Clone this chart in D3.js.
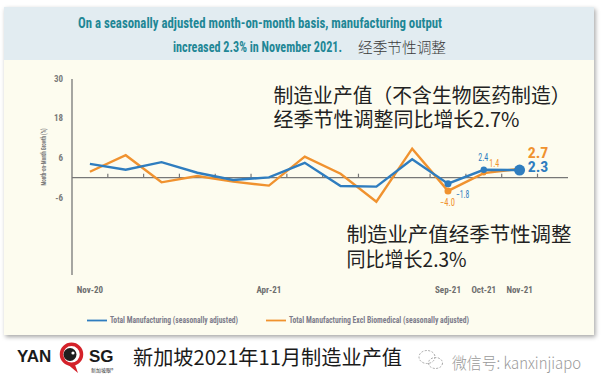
<!DOCTYPE html>
<html>
<head>
<meta charset="utf-8">
<script src="https://cdn.jsdelivr.net/npm/d3@7"></script>
<style>
    body { margin: 0; background: #fff; }
    svg { display: block; }
</style>
</head>
<body>
<div class="mfg-chart"></div>
<script>
// Data
const months = ['Nov-20', 'Dec-20', 'Jan-21', 'Feb-21', 'Mar-21', 'Apr-21', 'May-21',
    'Jun-21', 'Jul-21', 'Aug-21', 'Sep-21', 'Oct-21', 'Nov-21']
const totalMfg = [4.2, 2.4, 4.7, 1.5, -0.7, 0.1, 4.5, -2.5, -2.7, 5.6, -1.8, 2.4, 2.3]
const exclBiomed = [1.8, 6.8, -1.4, 0.5, -1.2, -2.4, 6.4, 1.2, -7.3, 8.8, -4.0, 1.4, 2.7]
const xLabels = ['Nov-20', 'Apr-21', 'Sep-21', 'Oct-21', 'Nov-21']
const yTicks = [30, 18, 6, -6]
const legendText = ['Total Manufacturing (seasonally adjusted)',
    'Total Manufacturing Excl Biomedical (seasonally adjusted)']

/* Configuration */
const width = 601
const height = 388
const selector = '.mfg-chart'
const blue = '#2f7dbf'
const orange = '#f0922f'
const teal = '#1f8796'
const grey = '#7a7a7a'
const condensed = '"Roboto Condensed", "Liberation Sans Narrow", "DejaVu Sans Condensed", Roboto, sans-serif'
const cjk = '"Noto Sans CJK SC", "Noto Sans", sans-serif'

const svg = d3
    .select(selector)
    .append('svg')
    .attr('width', width)
    .attr('height', height)
    .attr('viewBox', [0, 0, width, height])

const defs = svg.append('defs')
const shadow = defs.append('filter')
    .attr('id', 'shadow')
    .attr('x', -0.05).attr('y', -0.05)
    .attr('width', 1.1).attr('height', 1.12)
shadow.append('feDropShadow')
    .attr('dx', 1.5).attr('dy', 2)
    .attr('stdDeviation', 2)
    .attr('flood-color', '#000')
    .attr('flood-opacity', 0.35)

/* Card */
svg.append('rect')
    .attr('x', 4).attr('y', 7)
    .attr('width', 590).attr('height', 328)
    .attr('fill', '#fdfcef')
    .attr('filter', 'url(#shadow)')
svg.append('rect')
    .attr('x', 4).attr('y', 7)
    .attr('width', 590).attr('height', 53)
    .attr('fill', '#e2ecf1')

// Header
svg.append('text')
    .attr('x', 78).attr('y', 27.5)
    .attr('textLength', 364).attr('lengthAdjust', 'spacingAndGlyphs')
    .attr('fill', teal)
    .attr('font-family', condensed)
    .attr('font-weight', 700)
    .attr('font-size', 15.5)
    .text('On a seasonally adjusted month-on-month basis, manufacturing output')
svg.append('text')
    .attr('x', 173).attr('y', 51.5)
    .attr('textLength', 169).attr('lengthAdjust', 'spacingAndGlyphs')
    .attr('fill', teal)
    .attr('font-family', condensed)
    .attr('font-weight', 700)
    .attr('font-size', 15.5)
    .text('increased 2.3% in November 2021.')
svg.append('text')
    .attr('x', 358).attr('y', 46)
    .attr('dominant-baseline', 'central')
    .attr('textLength', 88).attr('lengthAdjust', 'spacingAndGlyphs')
    .attr('fill', '#3a3a3a')
    .attr('font-family', cjk)
    .attr('font-weight', 300)
    .attr('font-size', 14.5)
    .text('经季节性调整')

/* Scales */
const x = d3.scaleBand().domain(months).range([72, 537.5])
const y = d3.scaleLinear().domain([-30, 30]).range([276.7, 78.7])
const cx = d => x(d) + x.bandwidth() / 2

// Y axis
svg.append('line')
    .attr('x1', 72).attr('x2', 72)
    .attr('y1', 79).attr('y2', 275)
    .attr('stroke', '#777').attr('stroke-width', 1.3)

svg.append('g')
    .selectAll('text')
    .data(yTicks)
    .join('text')
    .attr('x', 63)
    .attr('y', d => y(d))
    .attr('dy', '0.35em')
    .attr('text-anchor', 'end')
    .attr('fill', grey)
    .attr('font-family', condensed)
    .attr('font-weight', 700)
    .attr('font-size', 9)
    .text(d => d)

svg.append('text')
    .attr('transform', 'translate(43.5, 157) rotate(-90)')
    .attr('text-anchor', 'middle')
    .attr('dominant-baseline', 'central')
    .attr('textLength', 57).attr('lengthAdjust', 'spacingAndGlyphs')
    .attr('fill', grey)
    .attr('font-family', condensed)
    .attr('font-weight', 700)
    .attr('font-size', 7)
    .text('Month-on-Month Growth (%)')

// Zero line with upward ticks on band edges
svg.append('line')
    .attr('x1', 72).attr('x2', 568)
    .attr('y1', y(0)).attr('y2', y(0))
    .attr('stroke', '#777').attr('stroke-width', 1.3)

svg.append('g')
    .selectAll('line')
    .data(months.slice(1).concat(['end']))
    .join('line')
    .attr('x1', (d, i) => x(months[0]) + (i + 1) * x.step())
    .attr('x2', (d, i) => x(months[0]) + (i + 1) * x.step())
    .attr('y1', y(0))
    .attr('y2', y(0) - 4)
    .attr('stroke', '#777').attr('stroke-width', 1.2)

svg.append('g')
    .selectAll('text')
    .data(xLabels)
    .join('text')
    .attr('x', d => cx(d))
    .attr('y', 293)
    .attr('text-anchor', 'middle')
    .attr('fill', '#6e6e6e')
    .attr('font-family', condensed)
    .attr('font-weight', 700)
    .attr('font-size', 9)
    .text(d => d)

/* Lines */
const line = d3.line()
    .x(d => cx(d[0]))
    .y(d => y(d[1]))

svg.append('path')
    .datum(d3.zip(months, exclBiomed))
    .attr('fill', 'none')
    .attr('stroke', orange)
    .attr('stroke-width', 2.4)
    .attr('stroke-linejoin', 'miter')
    .attr('d', line)

svg.append('path')
    .datum(d3.zip(months, totalMfg))
    .attr('fill', 'none')
    .attr('stroke', blue)
    .attr('stroke-width', 2.4)
    .attr('d', line)

// Markers on last months
const dots = [
    [months[10], exclBiomed[10], orange, 3.5],
    [months[11], exclBiomed[11], orange, 2.5],
    [months[10], totalMfg[10], blue, 3.5],
    [months[11], totalMfg[11], blue, 3.2],
    [months[12], totalMfg[12], blue, 5.5],
]
svg.append('g')
    .selectAll('circle')
    .data(dots)
    .join('circle')
    .attr('cx', d => cx(d[0]))
    .attr('cy', d => y(d[1]))
    .attr('r', d => d[3])
    .attr('fill', d => d[2])

// Value labels
const valueLabels = [
    [totalMfg[11], blue, 478.3, 160.7, 10, 10, 400],
    [exclBiomed[11], orange, 489.3, 167.3, 10, 10, 400],
    [exclBiomed[10], orange, 440, 206, 15, 10, 400],
    [totalMfg[10], blue, 456, 198, 13.3, 10, 400],
    [exclBiomed[12], orange, 527.7, 158, 20.6, 15, 700],
    [totalMfg[12], blue, 527.7, 172, 20.6, 15, 700],
]
svg.append('g')
    .selectAll('text')
    .data(valueLabels)
    .join('text')
    .attr('x', d => d[2])
    .attr('y', d => d[3])
    .attr('textLength', d => d[4])
    .attr('lengthAdjust', 'spacingAndGlyphs')
    .attr('fill', d => d[1])
    .attr('font-family', condensed)
    .attr('font-size', d => d[5])
    .attr('font-weight', d => d[6])
    .text(d => d3.format('.1f')(d[0]))

/* Chinese annotations */
const notes = [
    ['制造业产值（不含生物医药制造）', 273.5, 94, 297],
    ['经季节性调整同比增长2.7%', 273.5, 118.5, 246],
    ['制造业产值经季节性调整', 346.5, 233, 225],
    ['同比增长2.3%', 346.5, 258, 120],
]
svg.append('g')
    .selectAll('text')
    .data(notes)
    .join('text')
    .attr('x', d => d[1])
    .attr('y', d => d[2])
    .attr('dominant-baseline', 'central')
    .attr('textLength', d => d[3])
    .attr('lengthAdjust', 'spacingAndGlyphs')
    .attr('fill', '#222')
    .attr('font-family', cjk)
    .attr('font-size', 20)
    .text(d => d[0])

/* Legend */
const legend = svg.append('g')
    .selectAll('g')
    .data(d3.zip(legendText, [blue, orange], [87, 266], [128, 180]))
    .join('g')
legend.append('line')
    .attr('x1', d => d[2]).attr('x2', d => d[2] + 20)
    .attr('y1', 320.5).attr('y2', 320.5)
    .attr('stroke', d => d[1]).attr('stroke-width', 1.8)
legend.append('text')
    .attr('x', d => d[2] + 23)
    .attr('y', 320.5)
    .attr('dy', '0.35em')
    .attr('textLength', d => d[3])
    .attr('lengthAdjust', 'spacingAndGlyphs')
    .attr('fill', '#7d7d8c')
    .attr('font-family', condensed)
    .attr('font-weight', 700)
    .attr('font-size', 8.5)
    .text(d => d[0])

/* Footer: logo, caption, wechat id */
const logo = svg.append('g')
logo.append('text')
    .attr('x', 17).attr('y', 362)
    .attr('font-family', '"Liberation Sans", Arial, sans-serif')
    .attr('font-weight', 700).attr('font-size', 17)
    .attr('fill', '#1a1a1a')
    .text('YAN')
logo.append('path')
    .attr('d', 'M66,363 L78,373 L74,362 Z')
    .attr('fill', '#d4222a')
logo.append('circle')
    .attr('cx', 71.5).attr('cy', 354.3).attr('r', 10)
    .attr('fill', '#fff')
    .attr('stroke', '#d4222a').attr('stroke-width', 3.5)
logo.append('circle')
    .attr('cx', 70).attr('cy', 354.5).attr('r', 6.5)
    .attr('fill', '#1e1e1e')
logo.append('circle')
    .attr('cx', 73).attr('cy', 353).attr('r', 1.6)
    .attr('fill', '#fff')
logo.append('text')
    .attr('x', 89).attr('y', 362)
    .attr('font-family', '"Liberation Sans", Arial, sans-serif')
    .attr('font-weight', 700).attr('font-size', 17)
    .attr('fill', '#1a1a1a')
    .text('SG')
logo.append('text')
    .attr('x', 91).attr('y', 371.5)
    .attr('font-family', cjk)
    .attr('font-size', 5)
    .attr('fill', '#333')
    .text('新加坡眼®')

svg.append('text')
    .attr('x', 133).attr('y', 356.7)
    .attr('dominant-baseline', 'central')
    .attr('textLength', 269).attr('lengthAdjust', 'spacingAndGlyphs')
    .attr('font-family', cjk)
    .attr('font-size', 20)
    .attr('fill', '#1a1a1a')
    .text('新加坡2021年11月制造业产值')

// wechat bubbles
const wx = svg.append('g')
    .attr('fill', 'none')
    .attr('stroke', '#a8a8a8')
    .attr('stroke-width', 1)
    .attr('stroke-dasharray', '2,1.5')
wx.append('ellipse').attr('cx', 427).attr('cy', 357).attr('rx', 8).attr('ry', 6.5)
wx.append('ellipse').attr('cx', 435.5).attr('cy', 363).attr('rx', 7).attr('ry', 5.5)

svg.append('text')
    .attr('x', 452).attr('y', 361.7)
    .attr('dominant-baseline', 'central')
    .attr('textLength', 129).attr('lengthAdjust', 'spacingAndGlyphs')
    .attr('font-family', cjk)
    .attr('font-size', 16)
    .attr('font-weight', 300)
    .attr('fill', '#9a9a9a')
    .text('微信号: kanxinjiapo')
</script>
</body>
</html>
